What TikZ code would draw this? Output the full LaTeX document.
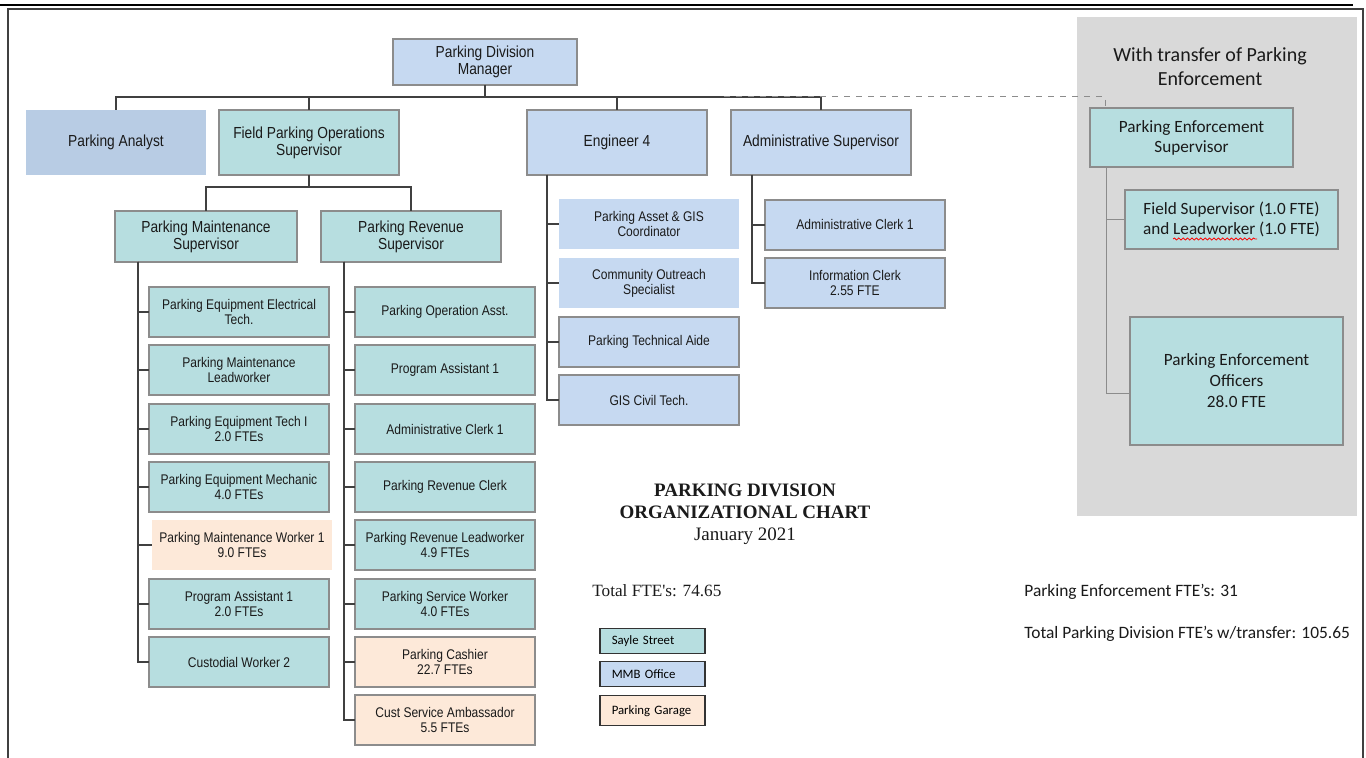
\documentclass[tikz,border=0pt]{standalone}
\usepackage{fontspec}
\setmainfont{Liberation Sans}
\newfontfamily\arialn[FakeStretch=0.86]{Liberation Sans}
\newfontfamily\calib{Carlito}
\newfontfamily\timesf{Liberation Serif}
\usetikzlibrary{decorations.pathmorphing}

\definecolor{sayle}{HTML}{B7DEE0}
\definecolor{mmb}{HTML}{C6D9F1}
\definecolor{analyst}{HTML}{B8CCE4}
\definecolor{garage}{HTML}{FDE9D9}
\definecolor{panel}{HTML}{D9D9D9}
\definecolor{edge}{HTML}{8C8C8C}
\definecolor{wire}{HTML}{404040}
\definecolor{ink}{HTML}{1A1A1A}

\tikzset{
  orgbox/.style={draw=edge, line width=0.75pt, anchor=north west, inner sep=1pt, outer sep=0pt, align=center, text=ink},
  headbox/.style={orgbox, minimum width=90pt, minimum height=32.5pt, font=\arialn\fontsize{8}{8.5}\selectfont},
  subbox/.style={orgbox, minimum width=90pt, minimum height=25.5pt, font=\arialn\fontsize{8}{8.5}\selectfont},
  jobbox/.style={orgbox, minimum width=90pt, minimum height=25pt, font=\arialn\fontsize{7}{7.5}\selectfont},
  pebox/.style={orgbox, fill=sayle, line width=0.6pt, font=\calib\fontsize{8.6}{10}\selectfont},
  keybox/.style={draw=black!80, line width=0.75pt, anchor=north west, minimum width=52.5pt, minimum height=12.5pt, text width=40.5pt, inner xsep=6pt, inner ysep=1pt, align=left, font=\calib\fontsize{6.4}{7}\selectfont},
  link/.style={draw=wire, line width=0.75pt},
  pelink/.style={draw=edge, line width=0.5pt},
  xferlink/.style={draw=edge, line width=0.5pt, dashed},
  notetext/.style={anchor=west, inner sep=0pt, text=ink},
}

\begin{document}
\begin{tikzpicture}[x=0.5pt, y=-0.5pt]
    \useasboundingbox (0,0) rectangle (1366,758);
    \fill[white] (0,0) rectangle (1366,758);
    \clip (0,0) rectangle (1366,758);

    % page frame
    \draw[line width=0.6pt] (0,5) -- (1353,5);
    \draw[wire, line width=1pt] (8,780) |- (1363,9) -- (1363,780);

    % transfer panel
    \fill[panel] (1077,17) rectangle (1357,516);

    % top of the chart
    \node[headbox, fill=mmb, minimum width=92pt, minimum height=23pt] (mgr) at (393,39) {Parking Division\\Manager};
    \node[headbox, fill=analyst, draw=none] (analyst) at (26,110) {Parking Analyst};
    \node[headbox, fill=sayle] (fpos) at (219,110) {Field Parking Operations\\Supervisor};
    \node[headbox, fill=mmb] (eng) at (527,110) {Engineer 4};
    \node[headbox, fill=mmb] (admsup) at (731,110) {Administrative Supervisor};

    \coordinate (topbus) at (486,97);
    \draw[link] (analyst.north) |- (topbus) -| (admsup.north);
    \draw[link] (mgr.south) -- (mgr.south |- topbus);
    \draw[link] (fpos.north) -- (fpos.north |- topbus);
    \draw[link] (eng.north) -- (eng.north |- topbus);

    % field operations
    \node[subbox, fill=sayle, minimum width=91pt] (mtsup) at (115,211) {Parking Maintenance\\Supervisor};
    \node[subbox, fill=sayle] (rvsup) at (321,211) {Parking Revenue\\Supervisor};
    \coordinate (fbus) at (308,187);
    \draw[link] (mtsup.north) |- (fbus) -| (rvsup.north);
    \draw[link] (fpos.south) -- (fpos.south |- fbus);

    % maintenance
    \node[jobbox, fill=sayle] (mc1) at (149,287) {Parking Equipment Electrical\\Tech.};
    \node[jobbox, fill=sayle] (mc2) at (149,345) {Parking Maintenance\\Leadworker};
    \node[jobbox, fill=sayle] (mc3) at (149,404) {Parking Equipment Tech I\\2.0 FTEs};
    \node[jobbox, fill=sayle] (mc4) at (149,462) {Parking Equipment Mechanic\\4.0 FTEs};
    \node[jobbox, fill=garage, draw=none] (mc5) at (152,520) {Parking Maintenance Worker 1\\9.0 FTEs};
    \node[jobbox, fill=sayle] (mc6) at (149,579) {Program Assistant 1\\2.0 FTEs};
    \node[jobbox, fill=sayle] (mc7) at (149,637) {Custodial Worker 2};
    \coordinate (mtspine) at ([xshift=11.5pt]mtsup.south west);
    \foreach \i in {1,...,7}
        \draw[link] (mtspine) |- (mc\i.west);

    % revenue
    \node[jobbox, fill=sayle] (rc1) at (355,287) {Parking Operation Asst.};
    \node[jobbox, fill=sayle] (rc2) at (355,345) {Program Assistant 1};
    \node[jobbox, fill=sayle] (rc3) at (355,404) {Administrative Clerk 1};
    \node[jobbox, fill=sayle] (rc4) at (355,462) {Parking Revenue Clerk};
    \node[jobbox, fill=sayle] (rc5) at (355,520) {Parking Revenue Leadworker\\4.9 FTEs};
    \node[jobbox, fill=sayle] (rc6) at (355,579) {Parking Service Worker\\4.0 FTEs};
    \node[jobbox, fill=garage] (rc7) at (355,637) {Parking Cashier\\22.7 FTEs};
    \node[jobbox, fill=garage] (rc8) at (355,695) {Cust Service Ambassador\\5.5 FTEs};
    \coordinate (rvspine) at ([xshift=11.5pt]rvsup.south west);
    \foreach \i in {1,...,8}
        \draw[link] (rvspine) |- (rc\i.west);

    % engineering
    \node[jobbox, fill=mmb, draw=none] (ec1) at (559,199) {Parking Asset \& GIS\\Coordinator};
    \node[jobbox, fill=mmb, draw=none] (ec2) at (559,258) {Community Outreach\\Specialist};
    \node[jobbox, fill=mmb] (ec3) at (559,317) {Parking Technical Aide};
    \node[jobbox, fill=mmb] (ec4) at (559,375) {GIS Civil Tech.};
    \coordinate (engspine) at ([xshift=10pt]eng.south west);
    \foreach \i in {1,...,4}
        \draw[link] (engspine) |- (ec\i.west);

    % administration
    \node[jobbox, fill=mmb] (ac1) at (765,200) {Administrative Clerk 1};
    \node[jobbox, fill=mmb] (ac2) at (765,258) {Information Clerk\\2.55 FTE};
    \coordinate (admspine) at ([xshift=10.5pt]admsup.south west);
    \foreach \i in {1,2}
        \draw[link] (admspine) |- (ac\i.west);

    % parking enforcement transfer
    \node[font=\calib\fontsize{10}{12}\selectfont, align=center, text=ink] (petitle) at (1210,67) {With transfer of Parking\\Enforcement};
    \node[pebox, minimum width=101.5pt, minimum height=29.5pt] (pesup) at (1090,108) {Parking Enforcement\\Supervisor};
    \node[pebox, minimum width=106.5pt, minimum height=29.5pt] (fldsup) at (1125,190) {Field Supervisor (1.0 FTE)\\and Leadworker (1.0 FTE)};
    \node[pebox, minimum width=106.5pt, minimum height=64pt, font=\calib\fontsize{8.6}{10.5}\selectfont] (peoff) at (1130,317) {Parking Enforcement\\Officers\\28.0 FTE};
    \coordinate (xfer) at (724,97);
    \draw[xferlink] (xfer) -| ([xshift=7.5pt]pesup.north west);
    \coordinate (pespine) at ([xshift=8pt]pesup.south west);
    \draw[pelink] (pespine) |- (fldsup.west);
    \draw[pelink] (pespine) |- ([yshift=-6.5pt]peoff.west);
    \draw[red, line width=0.4pt, decorate, decoration={snake, amplitude=0.5pt, segment length=2.2pt}] (1173,239) -- (1257,239);

    % title and totals
    \node[font=\timesf\fontsize{9.5}{11}\selectfont, align=center, text=ink] (title) at (745,514) {\textbf{PARKING DIVISION}\\\textbf{ORGANIZATIONAL CHART}\\January 2021};
    \node[notetext, font=\timesf\fontsize{8.6}{10}\selectfont] (total) at (592,591) {Total FTE's: 74.65};
    \node[notetext, font=\calib\fontsize{8.7}{10}\selectfont] (pefte) at (1024,592) {Parking Enforcement FTE’s: 31};
    \node[notetext, font=\calib\fontsize{8.7}{10}\selectfont] (grandtotal) at (1024,634) {Total Parking Division FTE’s w/transfer: 105.65};

    % legend
    \node[keybox, fill=sayle] (keysayle) at (599,628) {Sayle Street};
    \node[keybox, fill=mmb] (keymmb) at (599,661) {MMB Office};
    \node[keybox, fill=garage, minimum height=15pt] (keygarage) at (599,695) {Parking Garage};
\end{tikzpicture}
\end{document}
